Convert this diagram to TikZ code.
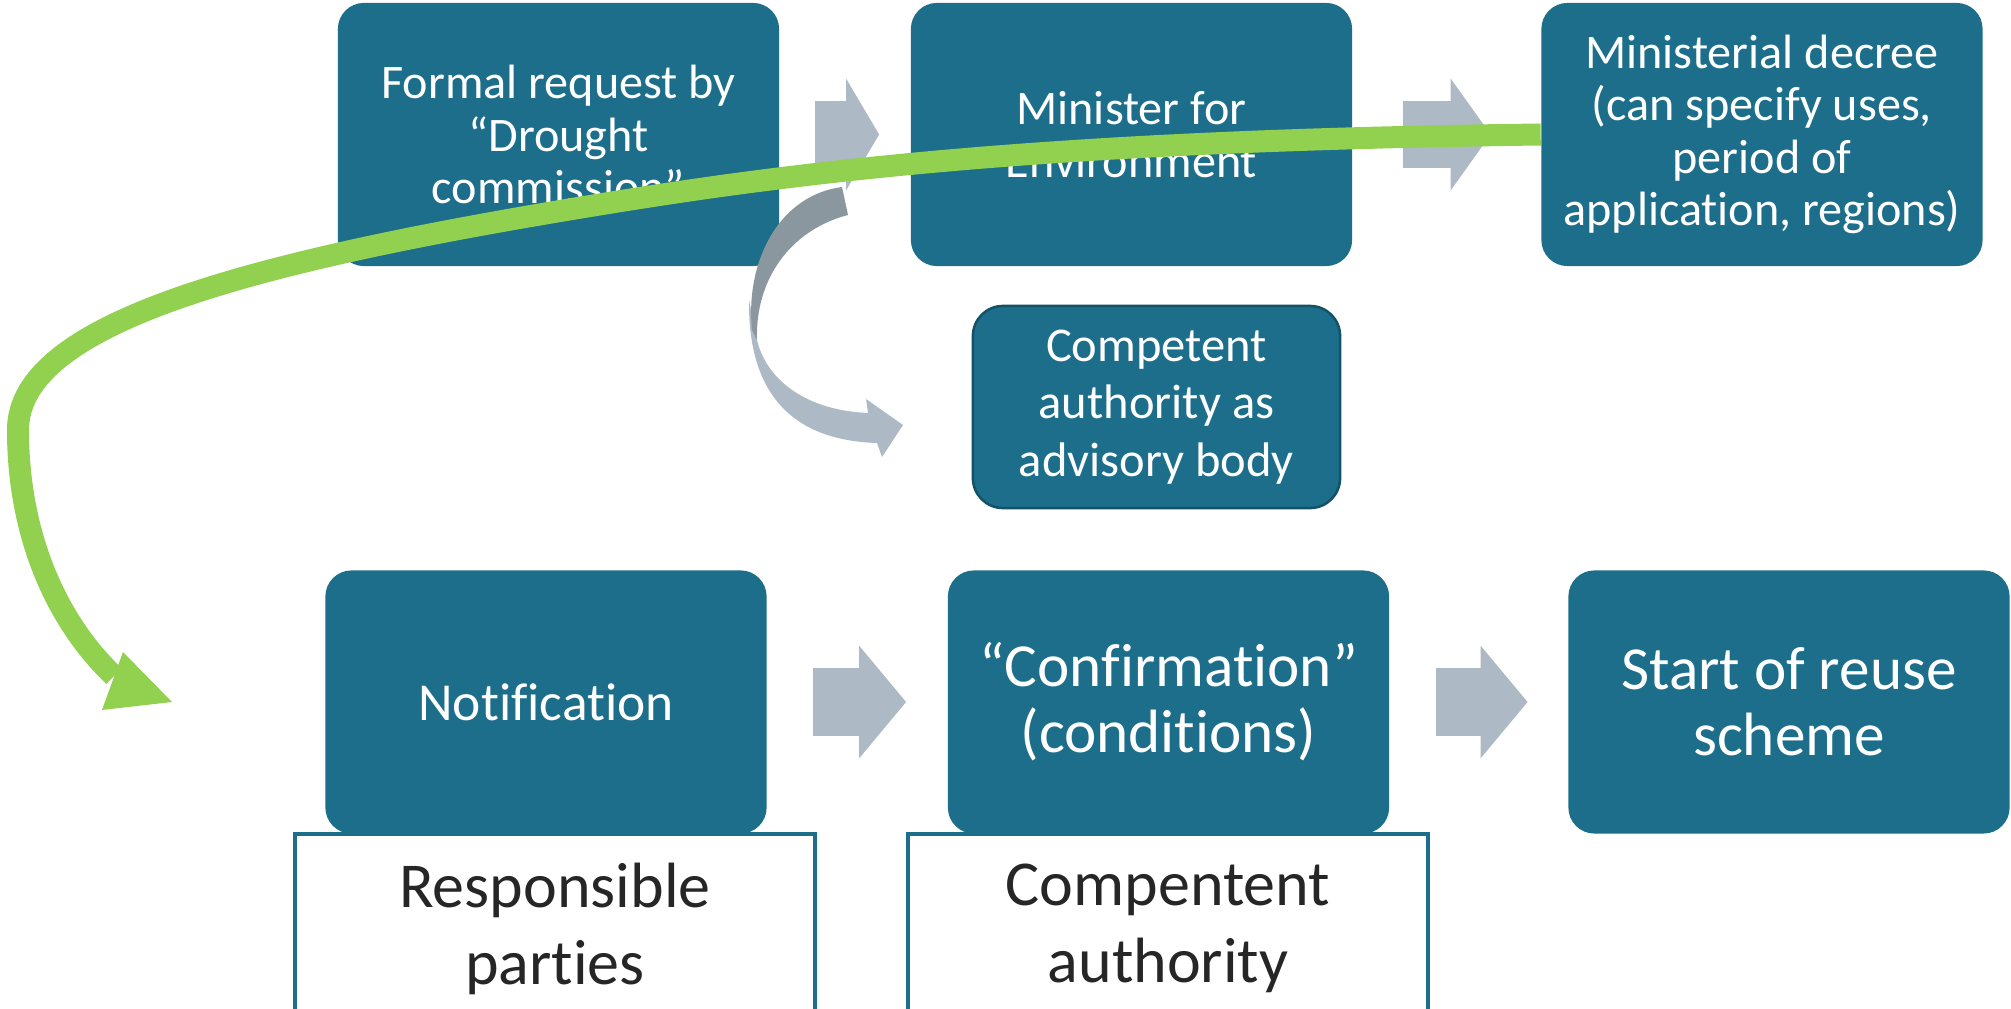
\documentclass[tikz,border=0pt]{standalone}
\usepackage{fontspec}
\setmainfont{Carlito}[Ligatures=CommonOff]
\usetikzlibrary{arrows.meta}
\definecolor{boxteal}{HTML}{1C6E8B}
\definecolor{boxedge}{HTML}{135267}
\definecolor{arrowgray}{HTML}{ADB9C4}
\definecolor{arrowdark}{HTML}{8A979F}
\definecolor{flowgreen}{HTML}{92D050}
\definecolor{roletext}{HTML}{262626}
\tikzset{
	stepbox/.style={fill=boxteal, rounded corners=2.6mm, text=white, align=center, inner sep=0pt, minimum width=4.41cm, minimum height=2.63cm},
	rolebox/.style={draw=boxteal, line width=0.4mm, fill=white, text=roletext, align=center, minimum width=5.19cm, minimum height=1.89cm, font=\fontsize{18.2}{21.9}\selectfont},
	blockarrow/.style={arrowgray, line width=6.7mm, -{Triangle[width=11mm, length=#1]}},
	blockarrow/.default=4.7mm
}
\begin{document}
\begin{tikzpicture}[x=0.01cm, y=-0.01cm]
		\useasboundingbox (0,0) rectangle (2011,1009);
		\clip (0,0) rectangle (2011,1009);

		% Role boxes below the second row
		\node[rolebox] (resp) at (555,928.5) {Responsible\\parties};
		\node[rolebox] (auth) at (1168,928.5) {Compentent\\authority};

		% First row
		\node[stepbox, font=\fontsize{13.7}{14.9}\selectfont] (req) at (558.5,134.5) {Formal request by\\“Drought\\commission”};
		\node[stepbox, font=\fontsize{13.7}{14.9}\selectfont] (mini) at (1131.5,134.5) {Minister for\\Environment};
		\node[stepbox, font=\fontsize{13.7}{14.9}\selectfont] (decree) at (1762,134.5) {Ministerial decree\\(can specify uses,\\period of\\application, regions)};

		% Advisory body
		\node[stepbox, draw=boxedge, line width=0.25mm, rounded corners=3mm, minimum width=3.67cm, minimum height=2.02cm, font=\fontsize{13.8}{16.4}\selectfont] (advice) at (1156.5,407) {Competent\\authority as\\advisory body};

		% Second row
		\node[stepbox, font=\fontsize{15.2}{18}\selectfont] (notif) at (546,702) {Notification};
		\node[stepbox, font=\fontsize{17.4}{18.8}\selectfont] (confirm) at (1168.5,702) {“Confirmation”\\(conditions)};
		\node[stepbox, font=\fontsize{17.4}{18.8}\selectfont] (reuse) at (1789,702) {Start of reuse\\scheme};

		% Block arrows
		\draw[blockarrow=3.3mm, shorten <=3.5mm, shorten >=3.1mm] (req) -- (mini);
		\draw[blockarrow=4mm, shorten <=5mm, shorten >=5mm] (mini) -- (decree);
		\draw[blockarrow, shorten <=4.6mm, shorten >=4.1mm] (notif) -- (confirm);
		\draw[blockarrow, shorten <=4.6mm, shorten >=4mm] (confirm) -- (reuse);

		% Curved arrow down to the advisory body
		\fill[arrowgray] (749,300) .. controls (748,380) and (780,440) .. (877,443)
			-- (882,457) -- (903,425) -- (866,399) -- (868,413)
			.. controls (800,410) and (765,375) .. (757,340) -- cycle;
		\fill[arrowdark] (842,187) .. controls (780,195) and (745,260) .. (752,330) -- (757,340)
			.. controls (755,280) and (790,230) .. (848,215) -- cycle;

		% Green loop back to the second row
		\coordinate (gbase) at (114,676);
		\coordinate (gtip) at (172,702);
		\draw[flowgreen, line width=2.2mm] (decree.west) .. controls (1100,140) and (850,165) .. (640,198)
			.. controls (260,258) and (18,320) .. (18,430)
			.. controls (18,540) and (60,625) .. (gbase);
		\fill[flowgreen] (gtip) -- (123,652) -- (102,710) -- cycle;
	\end{tikzpicture}
\end{document}
